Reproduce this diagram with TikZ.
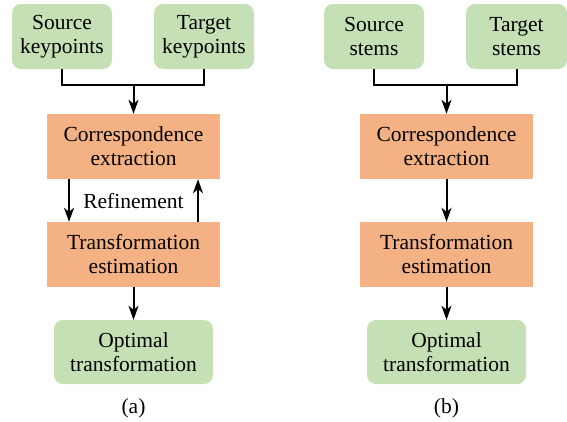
\documentclass[tikz,border=0pt]{standalone}
\usepackage{fontspec}
\setmainfont{Liberation Serif}
\usetikzlibrary{arrows.meta}
\definecolor{boxgreen}{HTML}{C5E0B4}
\definecolor{boxorange}{HTML}{F4B183}
\begin{document}
\begin{tikzpicture}[x=1pt,y=-1pt,
  every node/.style={font=\rmfamily\fontsize{21.5}{24}\selectfont, align=center, inner sep=0pt},
  inbox/.style={fill=boxgreen, rounded corners=9pt, minimum height=65pt},
  procbox/.style={fill=boxorange, minimum width=173pt, minimum height=65pt},
  conn/.style={line width=2pt, -{Stealth[length=14pt,width=10pt,inset=4pt]}},
  plain/.style={line width=2pt}]
\useasboundingbox (0,0) rectangle (567,421);
% panel (a)
\node[inbox, minimum width=100pt] (srcA) at (62,36.5) {Source\\keypoints};
\node[inbox, minimum width=100pt] (tgtA) at (204,36.5) {Target\\keypoints};
\node[procbox] (corrA) at (133.5,146.5) {Correspondence\\extraction};
\node[procbox] (transA) at (133.5,254.5) {Transformation\\estimation};
\node[inbox, minimum width=159pt, minimum height=64pt] (optA) at (133.5,352) {Optimal\\transformation};
\node (capA) at (133.5,408) {(a)};
\coordinate (jA) at (133.5,85);
\draw[plain] (srcA.south) |- (jA) -| (tgtA.south);
\draw[conn] (jA) -- (corrA.north);
\draw[conn] (corrA.south -| 69,0) -- (transA.north -| 69,0);
\draw[conn] (transA.north -| 198,0) -- (corrA.south -| 198,0);
\node (refA) at (133.5,201) {Refinement};
\draw[conn] (transA.south) -- (optA.north);
% panel (b)
\node[inbox, minimum width=100pt] (srcB) at (374,36.5) {Source\\stems};
\node[inbox, minimum width=101pt] (tgtB) at (516.5,36.5) {Target\\stems};
\node[procbox] (corrB) at (446.5,146.5) {Correspondence\\extraction};
\node[procbox] (transB) at (446.5,254.5) {Transformation\\estimation};
\node[inbox, minimum width=159pt, minimum height=64pt] (optB) at (446.5,352) {Optimal\\transformation};
\node (capB) at (446.5,408) {(b)};
\coordinate (jB) at (446.5,85);
\draw[plain] (srcB.south) |- (jB) -| (tgtB.south);
\draw[conn] (jB) -- (corrB.north);
\draw[conn] (corrB.south) -- (transB.north);
\draw[conn] (transB.south) -- (optB.north);
\end{tikzpicture}
\end{document}
